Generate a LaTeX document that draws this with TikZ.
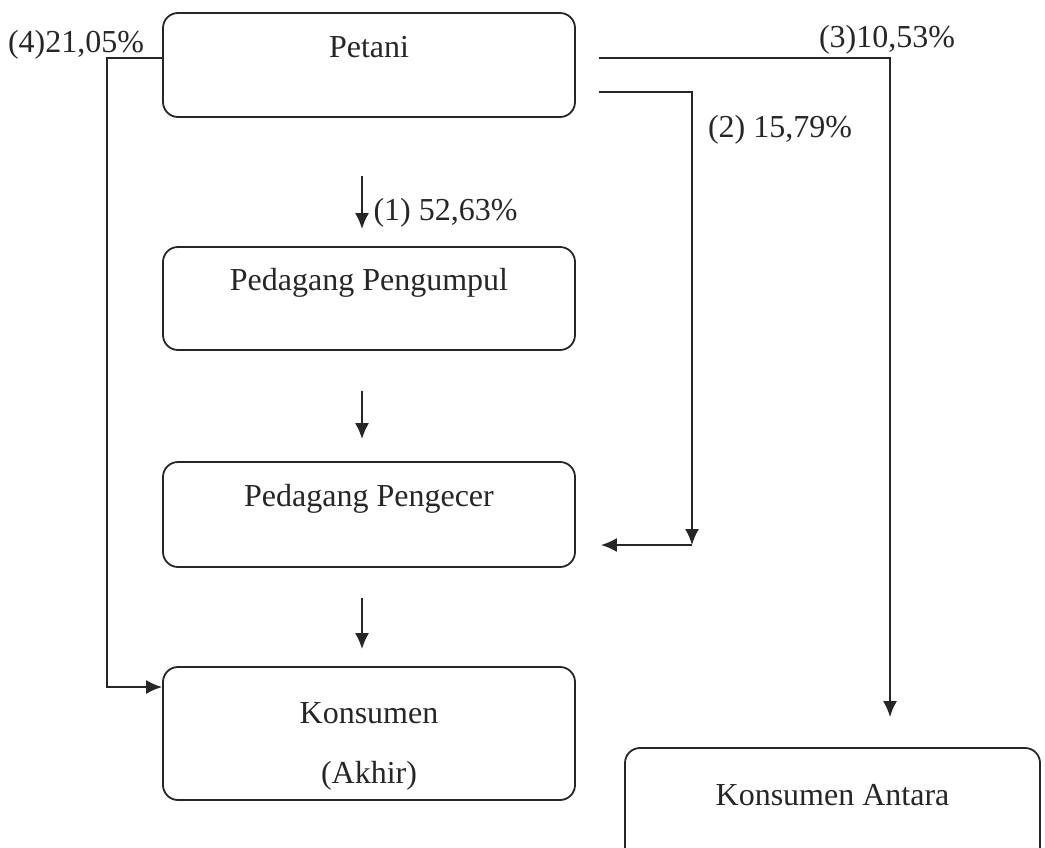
\documentclass[tikz,border=0pt]{standalone}
\usepackage{fontspec}
\setmainfont{Liberation Serif}
\usetikzlibrary{positioning}
\usetikzlibrary{arrows.meta}

\begin{document}
\begin{tikzpicture}[x=0.5pt, y=-0.5pt, every node/.style={font=\fontsize{16}{19.2}\selectfont, text=black!85}]
                \tikzset{
                  kotak/.style={draw=black!85, line width=0.9pt, rounded corners=7.5pt, minimum width=206pt},
                  atas/.style={text height=11pt, text depth=19pt},
                  garis/.style={draw=black!85, line width=0.9pt},
                  panah/.style={garis, -{Latex[length=8pt,width=7pt]}}
                }
                \useasboundingbox (0,0) rectangle (1045,847);

                % Nodes
                \node at (369,65) (petani) [kotak, atas, minimum height=52pt] {Petani};
                \node at (369,298.5) (pengumpul) [kotak, atas, minimum height=51.5pt] {Pedagang Pengumpul};
                \node at (369,514.5) (pengecer) [kotak, atas, minimum height=52.5pt] {Pedagang Pengecer};
                \node at (369,733.5) (konsumen) [kotak, minimum height=66.5pt, align=center] {\rule{0pt}{23pt}Konsumen\\[10.8pt](Akhir)};
                \node at (832.5,805) (antara) [kotak, text height=11pt, text depth=11pt, minimum width=207.5pt, minimum height=57pt] {Konsumen Antara};

                % Labels
                \node at (76,45) (p4) {(4)21,05\%};
                \node at (887,40) (p3) {(3)10,53\%};
                \node at (780,130) (p2) {(2) 15,79\%};
                \coordinate (belok) at (692,545);

                % Arrows
                \draw[panah] ([xshift=-3.5pt,yshift=-29pt]petani.south) -- node[pos=0.7, right, xshift=2pt] (p1) {(1) 52,63\%} ([xshift=-3.5pt,yshift=8.5pt]pengumpul.north);
                \draw[panah] ([xshift=-3.5pt,yshift=-20pt]pengumpul.south) -- ([xshift=-3.5pt,yshift=11pt]pengecer.north);
                \draw[panah] ([xshift=-3.5pt,yshift=-15pt]pengecer.south) -- ([xshift=-3.5pt,yshift=8.5pt]konsumen.north);

                % Petani langsung ke konsumen
                \draw[panah] ([yshift=3.5pt]petani.west) -- ++(-55,0) |- ([yshift=23.25pt]konsumen.west);
                \draw[panah] ([xshift=11.5pt,yshift=3.5pt]petani.east) -| ([xshift=28.75pt,yshift=15pt]antara.north);
                \draw[panah] ([xshift=11.5pt,yshift=-13.5pt]petani.east) -| (belok);
                \draw[panah] (belok) -- ([xshift=12.5pt,yshift=-15.25pt]pengecer.east);

            \end{tikzpicture}
\end{document}
